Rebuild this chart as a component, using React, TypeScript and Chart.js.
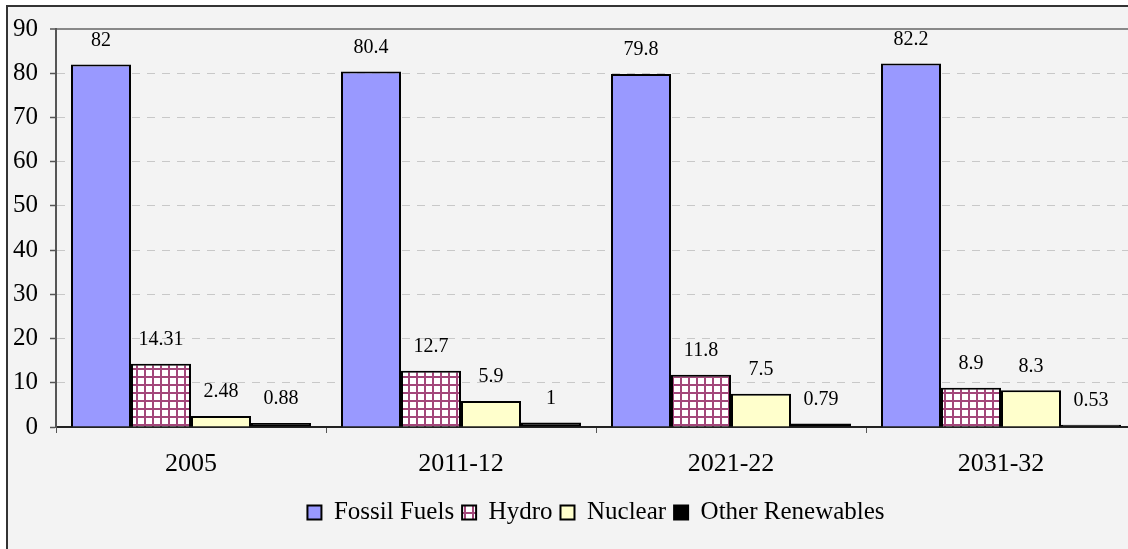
import React, { useEffect, useRef } from "react";
import { Chart, registerables } from "chart.js";

Chart.register(...registerables);

const categories = ["2005", "2011-12", "2021-22", "2031-32"];
const seriesNames = ["Fossil Fuels", "Hydro", "Nuclear", "Other Renewables"];
const fossilFuels = [82, 80.4, 79.8, 82.2];
const hydro = [14.31, 12.7, 11.8, 8.9];
const nuclear = [2.48, 5.9, 7.5, 8.3];
const otherRenewables = [0.88, 1, 0.79, 0.53];
const yMin = 0;
const yMax = 90;
const yStep = 10;

const FONT = "'Liberation Serif', 'Times New Roman', serif";

function makeGridPattern(): CanvasPattern | string {
  const c = document.createElement("canvas");
  c.width = 8;
  c.height = 8;
  const g = c.getContext("2d");
  if (!g) return "#993366";
  g.fillStyle = "#ffffff";
  g.fillRect(0, 0, 8, 8);
  g.fillStyle = "#a3477a";
  g.fillRect(0, 0, 8, 2);
  g.fillRect(0, 0, 2, 8);
  const p = g.createPattern(c, "repeat");
  return p || "#993366";
}

const backgroundPlugin = {
  id: "frameBg",
  beforeDraw(chart: any) {
    const { ctx, width, height } = chart;
    ctx.save();
    ctx.fillStyle = "#ffffff";
    ctx.fillRect(0, 0, width, height);
    ctx.fillStyle = "#f3f3f3";
    ctx.fillRect(6, 5, width, height);
    ctx.strokeStyle = "#333333";
    ctx.lineWidth = 2;
    ctx.strokeRect(7, 6, width + 20, height + 20);
    ctx.restore();
  },
};

const valueLabelPlugin = {
  id: "valueLabels",
  afterDatasetsDraw(chart: any) {
    const { ctx } = chart;
    ctx.save();
    ctx.font = `20px ${FONT}`;
    ctx.fillStyle = "#000000";
    ctx.textAlign = "center";
    ctx.textBaseline = "middle";
    chart.data.datasets.forEach((ds: any, di: number) => {
      const meta = chart.getDatasetMeta(di);
      meta.data.forEach((bar: any, i: number) => {
        const v = ds.data[i];
        ctx.fillText(String(v), bar.x, bar.y - 24);
      });
    });
    ctx.restore();
  },
};

export default function App() {
  const ref = useRef<HTMLCanvasElement | null>(null);

  useEffect(() => {
    if (!ref.current) return;
    const pattern = makeGridPattern();
    const common = {
      borderColor: "#000000",
      borderWidth: 2,
      categoryPercentage: 240 / 270,
      barPercentage: 1,
    };
    const chart = new Chart(ref.current, {
      type: "bar",
      data: {
        labels: categories,
        datasets: [
          { label: seriesNames[0], data: fossilFuels, backgroundColor: "#9999ff", ...common },
          { label: seriesNames[1], data: hydro, backgroundColor: pattern as any, ...common },
          { label: seriesNames[2], data: nuclear, backgroundColor: "#ffffcc", ...common },
          { label: seriesNames[3], data: otherRenewables, backgroundColor: "#000000", ...common },
        ],
      },
      options: {
        responsive: false,
        animation: false,
        devicePixelRatio: 1,
        layout: { padding: { left: 0, right: 4, top: 29, bottom: 14 } },
        plugins: {
          legend: {
            position: "bottom",
            fullSize: false,
            labels: {
              font: { family: FONT, size: 25 },
              color: "#000000",
              boxWidth: 14,
              boxHeight: 14,
              padding: 8,
            },
          },
          tooltip: { enabled: false },
        },
        scales: {
          x: {
            grid: {
              drawOnChartArea: false,
              drawTicks: true,
              tickLength: 6,
              color: "#555555",
              tickColor: "#555555",
              offset: true,
            },
            border: { color: "#222222", width: 2 },
            ticks: { font: { family: FONT, size: 26 }, color: "#000000", padding: 16 },
            afterFit: (s: any) => {
              s.height = 65;
            },
          },
          y: {
            min: yMin,
            max: yMax,
            ticks: {
              stepSize: yStep,
              font: { family: FONT, size: 25 },
              color: "#000000",
              padding: 12,
            },
            grid: {
              color: (c: any) =>
                c.tick && c.tick.value === yMax
                  ? "#888888"
                  : c.tick && c.tick.value === yMin
                  ? "rgba(0,0,0,0)"
                  : "#c8c8c8",
              lineWidth: (c: any) => (c.tick && c.tick.value === yMax ? 2 : 1),
              tickColor: "#555555",
              tickWidth: 1.5,
              tickLength: 6,
              tickBorderDash: [],
            },
            border: {
              color: "#555555",
              width: 2,
              dash: (c: any) =>
                c.tick && (c.tick.value === yMax || c.tick.value === yMin) ? [] : [8, 7],
            },
            afterFit: (s: any) => {
              s.width = 56;
            },
          },
        },
      },
      plugins: [backgroundPlugin, valueLabelPlugin],
    } as any);
    return () => chart.destroy();
  }, []);

  return (
    <div
      style={{
        position: "absolute",
        left: 0,
        top: 0,
        width: 1128,
        height: 549,
        overflow: "hidden",
        background: "#ffffff",
      }}
    >
      <canvas ref={ref} width={1140} height={549} style={{ display: "block" }} />
    </div>
  );
}
